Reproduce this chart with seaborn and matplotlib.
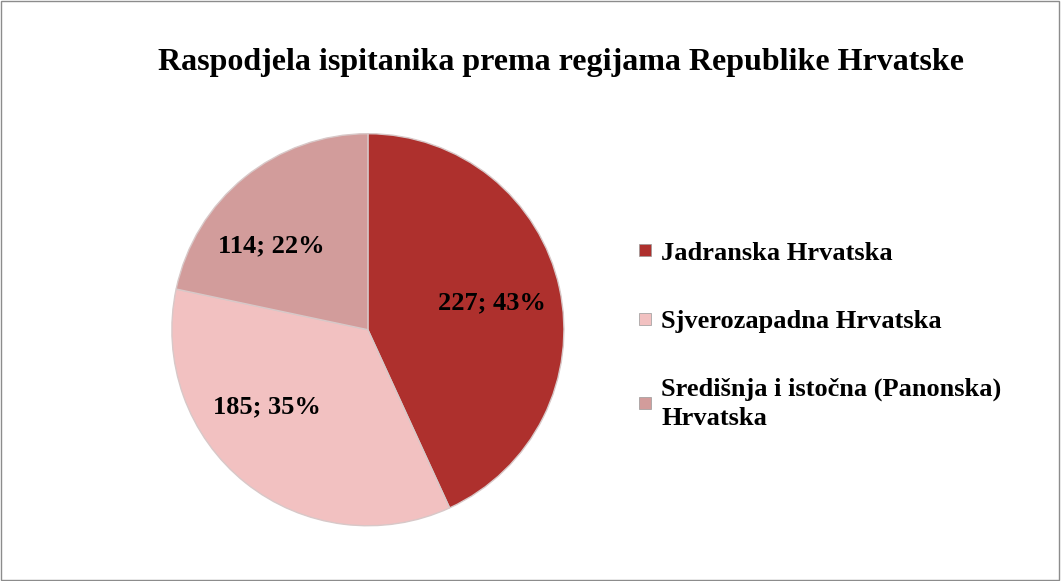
import matplotlib
matplotlib.use("Agg")
import numpy as np
import seaborn as sns
import matplotlib.pyplot as plt
from matplotlib.patches import Rectangle
from matplotlib.lines import Line2D

sns.set_theme(style="white")
plt.rcParams['font.family'] = ['Liberation Serif', 'DejaVu Serif']
plt.rcParams['text.color'] = 'black'

regions = ["Jadranska Hrvatska", "Sjverozapadna Hrvatska",
           "Središnja i istočna (Panonska)\nHrvatska"]
counts = [227, 185, 114]
percents = [43, 35, 22]
colors = ["#AE302D", "#F2C1C1", "#D29C9B"]

fig = plt.figure(figsize=(10.61, 5.81), dpi=100)
ax = fig.add_axes([0.162, 0.095, 0.3695, 0.675])

wedges, _ = ax.pie(counts, colors=colors, startangle=90, counterclock=False,
                   wedgeprops=dict(edgecolor="#d8c8c8", linewidth=1))
ax.set_xlim(-1.0, 1.0)
ax.set_ylim(-1.0, 1.0)
ax.set_aspect("equal")

# data labels placed like Excel's best fit
for w, c, p, shift in zip(wedges, counts, percents, [0, -14, 10]):
    ang = np.deg2rad((w.theta1 + w.theta2) / 2 + shift)
    r = 0.65
    ax.text(r * np.cos(ang), r * np.sin(ang), f"{c}; {p}%", ha="center",
            va="center", fontsize=19, fontweight="bold", color="black")

fig.text(0.529, 0.893, "Raspodjela ispitanika prema regijama Republike Hrvatske",
         ha="center", va="center", fontsize=23, fontweight="bold", color="black")

handles = [Line2D([], [], marker="s", linestyle="", markersize=8,
                  markerfacecolor=c, markeredgecolor="#999999", markeredgewidth=0.5)
           for c in colors]
leg = fig.legend(handles, regions, loc="upper left", bbox_to_anchor=(0.577, 0.626),
                 frameon=False, prop=dict(size=19, weight="bold"),
                 labelspacing=1.7, handlelength=0.7, handletextpad=0.25)
for t in leg.get_texts():
    t.set_color("black")
    t.set_linespacing(1.3)

fig.patches.append(Rectangle((0.001, 0.002), 0.997, 0.996, transform=fig.transFigure,
                             fill=False, edgecolor="#8c8c8c", linewidth=1))

fig.savefig("out.png", dpi=100)
